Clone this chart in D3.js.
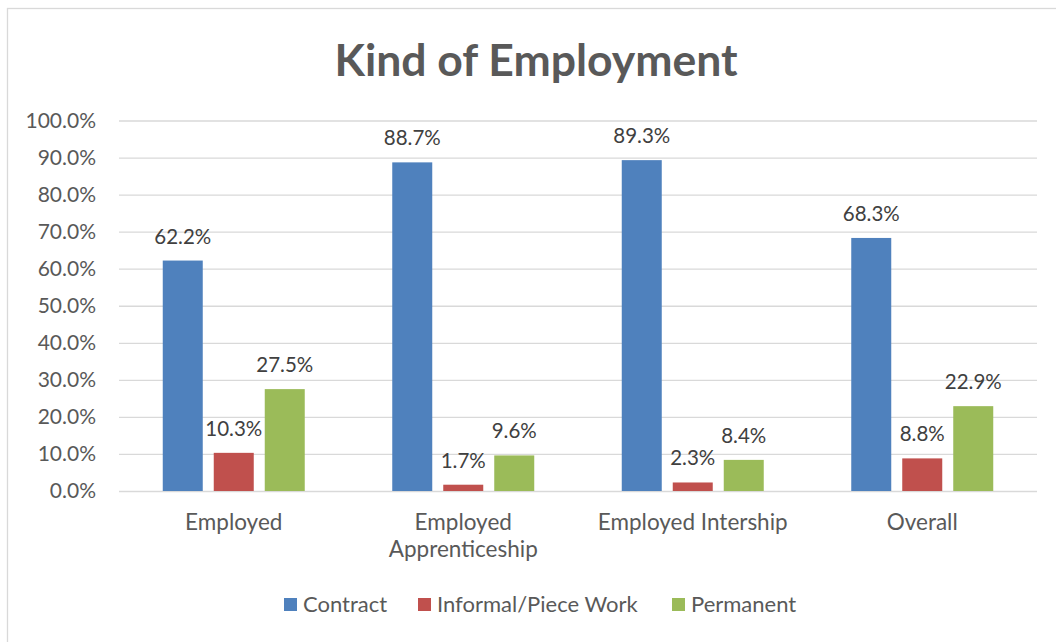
<!DOCTYPE html>
<html>
<head>
<meta charset="utf-8">
<script src="https://cdn.jsdelivr.net/npm/d3@7"></script>
<style>
  html, body { margin: 0; padding: 0; background: #fff; }
  svg { display: block; font-family: Lato, "Open Sans", sans-serif; }
</style>
</head>
<body>
<svg id="chart" width="1056" height="642"></svg>
<script>
// Kind of employment by group, share of respondents (%)
const categories = ["Employed", "Employed Apprenticeship", "Employed Intership", "Overall"];
const seriesNames = ["Contract", "Informal/Piece Work", "Permanent"];
const contract = [62.2, 88.7, 89.3, 68.3];
const informal = [10.3, 1.7, 2.3, 8.8];
const permanent = [27.5, 9.6, 8.4, 22.9];
const yTicks = [0, 10, 20, 30, 40, 50, 60, 70, 80, 90, 100];
const colors = ["#4F81BD", "#C0504D", "#9BBB59"];

const seriesValues = [contract, informal, permanent];

const svg = d3.select("#chart");
const plot = { left: 119, right: 1037, top: 120.5, bottom: 491 };

// Chart frame
svg.append("rect")
  .attr("x", 7.5).attr("y", 8.5)
  .attr("width", 1100).attr("height", 700)
  .attr("fill", "#fff")
  .attr("stroke", "#D9D9D9").attr("stroke-width", 1.3);

// Title
svg.append("text")
  .attr("x", 536).attr("y", 76)
  .attr("text-anchor", "middle")
  .attr("font-size", 44.5).attr("font-weight", 700)
  .attr("fill", "#595959")
  .text("Kind of Employment");

const x = d3.scaleBand().domain(categories).range([plot.left, plot.right]).padding(0);
const xInner = d3.scaleBand().domain(seriesNames).range([0, x.bandwidth()])
  .paddingInner(0.2157).paddingOuter(0.858);
const y = d3.scaleLinear().domain([0, 100]).range([plot.bottom, plot.top]);

// Y axis with gridlines
const yAxis = svg.append("g")
  .attr("transform", `translate(${plot.left},0)`)
  .call(d3.axisLeft(y).tickValues(yTicks)
    .tickSize(-(plot.right - plot.left))
    .tickPadding(23)
    .tickFormat(d => d.toFixed(1) + "%"));
yAxis.select(".domain").remove();
yAxis.selectAll(".tick line").attr("stroke", "#D9D9D9").attr("stroke-width", 1.3);
yAxis.selectAll(".tick text")
  .attr("font-size", 21).attr("fill", "#595959")
  .attr("font-family", "Lato, 'Open Sans', sans-serif");

// X axis (category labels)
const xAxis = svg.append("g")
  .attr("transform", `translate(0,${plot.bottom})`)
  .call(d3.axisBottom(x).tickSize(0).tickPadding(0));
xAxis.select(".domain").remove();
xAxis.selectAll(".tick text").each(function(d) {
  const t = d3.select(this);
  t.text(null).attr("y", 0).attr("dy", null)
    .attr("font-size", 22.5).attr("fill", "#595959")
    .attr("font-family", "Lato, 'Open Sans', sans-serif");
  const lines = d === "Employed Apprenticeship" ? ["Employed", "Apprenticeship"] : [d];
  lines.forEach((ln, i) => {
    t.append("tspan").attr("x", 0).attr("y", 39 + i * 27).text(ln);
  });
});

// Bars
const groups = svg.append("g").selectAll("g")
  .data(seriesNames)
  .join("g")
  .attr("fill", (s, i) => colors[i]);

groups.selectAll("rect")
  .data((s, si) => categories.map((c, ci) => ({ c, s, v: seriesValues[si][ci] })))
  .join("rect")
  .attr("x", d => x(d.c) + xInner(d.s))
  .attr("y", d => y(d.v))
  .attr("width", xInner.bandwidth())
  .attr("height", d => y(0) - y(d.v));

// Value labels
groups.selectAll("text")
  .data((s, si) => categories.map((c, ci) => ({ c, s, v: seriesValues[si][ci] })))
  .join("text")
  .attr("x", d => x(d.c) + xInner(d.s) + xInner.bandwidth() / 2)
  .attr("y", d => y(d.v) - 17)
  .attr("text-anchor", "middle")
  .attr("font-size", 20.5)
  .attr("fill", "#404040")
  .text(d => d.v.toFixed(1) + "%");

// Legend
const legendItems = [
  { name: "Contract", x: 284 },
  { name: "Informal/Piece Work", x: 418 },
  { name: "Permanent", x: 672 }
];
const legend = svg.append("g").selectAll("g")
  .data(legendItems)
  .join("g")
  .attr("transform", d => `translate(${d.x},598)`);
legend.append("rect")
  .attr("width", 13).attr("height", 13)
  .attr("fill", (d, i) => colors[i]);
legend.append("text")
  .attr("x", 19).attr("y", 13.5)
  .attr("font-size", 22).attr("fill", "#595959")
  .text(d => d.name);
</script>
</body>
</html>
